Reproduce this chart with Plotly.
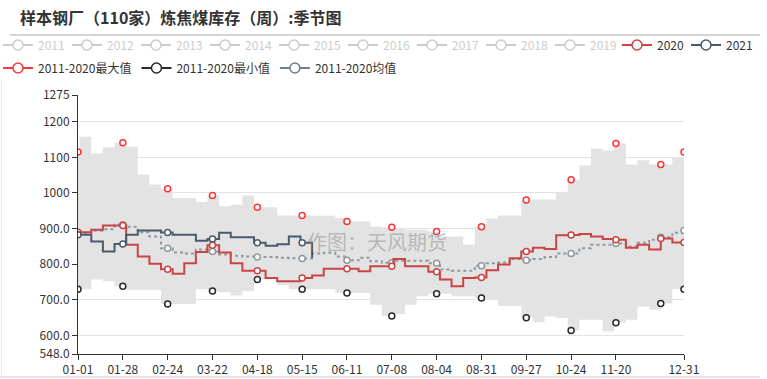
import plotly.graph_objects as go

TITLE = "样本钢厂（110家）炼焦煤库存（周）:季节图"
WATERMARK = "作图：天风期货"

x_tick_days = [0, 27, 54, 81, 108, 135, 162, 189, 216, 243, 270, 297, 324, 365]
x_tick_labels = ["01-01", "01-28", "02-24", "03-22", "04-18", "05-15", "06-11",
                 "07-08", "08-04", "08-31", "09-27", "10-24", "11-20", "12-31"]
y_tick_vals = [548, 600, 700, 800, 900, 1000, 1100, 1200, 1275]
y_tick_labels = ["548.0", "600.0", "700.0", "800.0", "900.0", "1000", "1100", "1200", "1275"]

hidden_years = ["2011", "2012", "2013", "2014", "2015", "2016", "2017", "2018", "2019"]

# weekly values: index 0 = 01-01, index i>=1 holds from day 7*(i-1)+1 onwards
max_2011_2020 = [1115, 1158, 1111, 1128, 1141, 1130, 1052, 1024, 1012, 986,
                 986, 975, 993, 963, 967, 993, 960, 960, 937, 937,
                 937, 936, 936, 930, 920, 920, 906, 904, 902, 897,
                 897, 892, 878, 878, 855, 905, 928, 937, 937, 980,
                 982, 982, 1000, 1037, 1077, 1124, 1119, 1139, 1080, 1092,
                 1080, 1080, 1099, 1115]
min_2011_2020 = [730, 730, 757, 752, 738, 728, 728, 728, 688, 688,
                 688, 730, 725, 721, 712, 725, 757, 757, 742, 730,
                 730, 730, 730, 719, 719, 719, 686, 655, 660, 686,
                 710, 717, 717, 710, 710, 705, 700, 683, 683, 650,
                 637, 653, 649, 614, 644, 644, 611, 636, 644, 681,
                 672, 690, 730, 730]
avg_2011_2020 = [888, 888, 894, 898, 911, 905, 890, 878, 845, 833,
                 830, 841, 836, 827, 824, 822, 820, 820, 818, 817,
                 816, 830, 832, 822, 811, 818, 808, 804, 810, 810,
                 810, 803, 785, 782, 782, 796, 803, 805, 815, 811,
                 815, 820, 830, 830, 845, 855, 855, 858, 850, 860,
                 869, 876, 888, 895]
y2020 = [890, 890, 897, 909, 909, 855, 822, 801, 786, 773,
         803, 834, 853, 833, 803, 782, 782, 761, 752, 752,
         761, 768, 787, 787, 787, 780, 794, 794, 815, 794,
         794, 779, 757, 738, 761, 763, 783, 799, 817, 836,
         846, 843, 881, 882, 885, 878, 871, 869, 846, 855,
         841, 872, 861, 861]
y2021 = [883, 883, 864, 836, 857, 883, 895, 895, 889, 883,
         883, 866, 871, 888, 876, 876, 860, 852, 856, 878,
         860, 818]

RED = "#c94545"
SLATE = "#4b5b6b"
AVG = "#8e99a2"
MAXC = "#ff3535"
MINC = "#2a2a2a"
BAND = "#e3e3e3"
FONT = "Noto Sans CJK SC"

marker_days = list(range(0, 365, 27)) + [365]


def step_x(vals):
    return [0] + [7 * (i - 1) + 1 for i in range(1, len(vals))]


def value_at(vals, day):
    return vals[(day + 6) // 7]


def markers_for(vals):
    last = step_x(vals)[-1]
    ds = [d for d in marker_days if d <= last]
    return ds, [value_at(vals, d) for d in ds]


fig = go.Figure()

# band
fig.add_trace(go.Scatter(x=step_x(min_2011_2020), y=min_2011_2020, mode="lines",
                         line=dict(width=0, shape="hv"), showlegend=False, hoverinfo="skip"))
fig.add_trace(go.Scatter(x=step_x(max_2011_2020), y=max_2011_2020, mode="lines",
                         line=dict(width=0, shape="hv"), fill="tonexty", fillcolor=BAND,
                         showlegend=False, hoverinfo="skip"))

mk = dict(symbol="circle", size=6, color="white")

for vals, col in [(max_2011_2020, MAXC), (min_2011_2020, MINC)]:
    dx, dy = markers_for(vals)
    fig.add_trace(go.Scatter(x=dx, y=dy, mode="markers",
                             marker=dict(mk, line=dict(color=col, width=1.5)), showlegend=False))

for vals, col, dash in [(avg_2011_2020, AVG, "dot"), (y2020, RED, "solid"), (y2021, SLATE, "solid")]:
    fig.add_trace(go.Scatter(x=step_x(vals), y=vals, mode="lines",
                             line=dict(color=col, width=2, shape="hv", dash=dash), showlegend=False))
    dx, dy = markers_for(vals)
    fig.add_trace(go.Scatter(x=dx, y=dy, mode="markers",
                             marker=dict(mk, line=dict(color=col, width=1.5)), showlegend=False))

# legends
lg_mk = dict(symbol="circle", size=10, color="white")
for yr in hidden_years:
    fig.add_trace(go.Scatter(x=[None], y=[None], name=yr, mode="lines+markers", visible="legendonly",
                             line=dict(color="#999", width=2), marker=dict(lg_mk, line=dict(color="#999", width=1.5)),
                             legend="legend"))
for nm, col in [("2020", RED), ("2021", SLATE)]:
    fig.add_trace(go.Scatter(x=[None], y=[None], name=nm, mode="lines+markers",
                             line=dict(color=col, width=2), marker=dict(lg_mk, line=dict(color=col, width=1.5)),
                             legend="legend2"))
for nm, col in [("2011-2020最大值", MAXC), ("2011-2020最小值", MINC), ("2011-2020均值", "#6f7f8d")]:
    fig.add_trace(go.Scatter(x=[None], y=[None], name=nm, mode="lines+markers",
                             line=dict(color=col, width=2), marker=dict(lg_mk, line=dict(color=col, width=1.5)),
                             legend="legend3"))

W, H = 767, 379
L, R, T, B = 78, 83, 95, 25
pw, ph = W - L - R, H - T - B


def px(xp):
    return (xp - L) / pw


def py(yp):
    return (H - B - yp) / ph


common_leg = dict(orientation="h", xref="paper", yref="paper", xanchor="left", yanchor="middle",
                  bgcolor="rgba(0,0,0,0)", itemclick=False, itemdoubleclick=False, traceorder="normal")

fig.update_layout(
    width=W, height=H,
    margin=dict(l=L, r=R, t=T, b=B, autoexpand=False),
    paper_bgcolor="white", plot_bgcolor="white",
    font=dict(family=FONT, size=12, color="#333"),
    title=dict(text=TITLE, x=20 / W, xanchor="left", xref="container", y=1 - 18 / H, yanchor="middle",
               yref="container", font=dict(size=16, color="#333", weight="bold", family=FONT)),
    legend=dict(common_leg, x=px(-2), y=py(45), font=dict(size=12, color="#999", family=FONT), entrywidth=24),
    legend2=dict(common_leg, x=px(617), y=py(45), font=dict(size=12, color="#333", family=FONT), entrywidth=24),
    legend3=dict(common_leg, x=px(-2), y=py(68), font=dict(size=12, color="#333", family=FONT)),
    xaxis=dict(range=[0, 365], tickvals=x_tick_days, ticktext=x_tick_labels, showgrid=False,
               showline=True, linecolor="#333", linewidth=1, ticks="outside", ticklen=5, tickcolor="#333",
               tickfont=dict(size=12, color="#333"), zeroline=False, fixedrange=True, automargin=False),
    yaxis=dict(range=[548, 1275], tickvals=y_tick_vals, ticktext=y_tick_labels, showgrid=True,
               gridcolor="#e3e3e3", gridwidth=1, showline=True, linecolor="#333", linewidth=1,
               ticks="outside", ticklen=5, tickcolor="#333", tickfont=dict(size=12, color="#333"),
               zeroline=False, fixedrange=True, automargin=False),
    shapes=[
        dict(type="line", xref="paper", yref="paper", x0=px(10), x1=px(760), y0=py(35), y1=py(35),
             line=dict(color="#aaaaaa", width=1)),
        dict(type="line", xref="paper", yref="paper", x0=px(0), x1=px(760), y0=py(377), y1=py(377),
             line=dict(color="#e6e6e6", width=2)),
        dict(type="line", xref="paper", yref="paper", x0=px(1.5), x1=px(1.5), y0=py(80), y1=py(377),
             line=dict(color="#ededed", width=1)),
    ],
    annotations=[
        dict(text=WATERMARK, xref="paper", yref="paper", x=px(377), y=py(241), showarrow=False,
             font=dict(size=20, color="rgba(140,140,140,0.5)", family=FONT)),
    ],
    showlegend=True,
)

fig.write_html("out.html", config={"displayModeBar": False},
               post_script="document.body.style.margin='0px';")
